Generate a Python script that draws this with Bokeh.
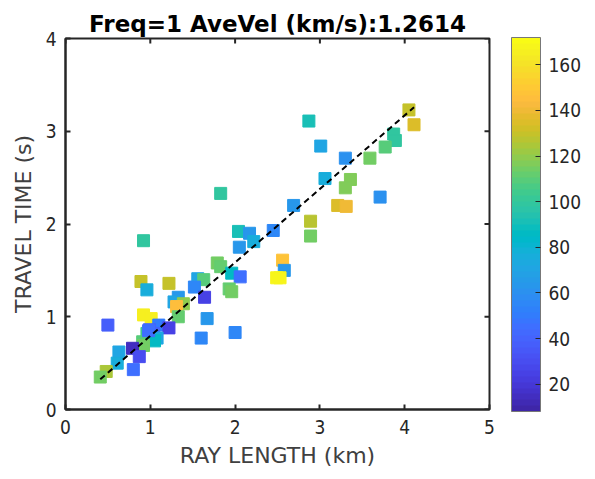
import math
from bokeh.plotting import figure
from bokeh.models import ColorBar, LinearColorMapper, FixedTicker, Range1d, ColumnDataSource
from bokeh.embed import file_html
from bokeh.resources import INLINE

# ---- data ----
ray_length = [4.05, 4.11, 2.87, 3.01, 3.30, 3.59, 3.87, 3.89, 3.77, 3.06,
              3.36, 3.30, 3.21, 3.31, 3.71, 1.83, 2.69, 2.45, 2.89, 2.89,
              2.04, 2.17, 2.22, 2.05, 0.92, 1.79, 1.83, 2.56, 2.58, 2.49,
              1.96, 2.06, 1.56, 1.63, 1.52, 1.64, 1.93, 1.96, 0.89, 1.22,
              0.96, 1.33, 1.28, 1.39, 1.31, 1.33, 0.92, 1.01, 1.67, 0.50,
              1.10, 1.22, 0.99, 1.04, 1.08, 0.96, 1.05, 0.91, 0.92, 2.00,
              1.60, 0.63, 0.79, 0.87, 0.61, 0.80, 0.48, 0.41, 0.98, 2.53]
travel_time = [3.23, 3.07, 3.11, 2.84, 2.71, 2.71, 2.97, 2.90, 2.83, 2.49,
               2.48, 2.39, 2.20, 2.19, 2.29, 2.33, 2.20, 1.93, 2.03, 1.87,
               1.92, 1.90, 1.81, 1.75, 1.82, 1.58, 1.54, 1.61, 1.50, 1.42,
               1.47, 1.43, 1.41, 1.40, 1.32, 1.21, 1.30, 1.27, 1.38, 1.36,
               1.29, 1.21, 1.16, 1.14, 1.11, 1.00, 1.02, 0.98, 0.98, 0.91,
               0.91, 0.88, 0.86, 0.82, 0.77, 0.82, 0.74, 0.73, 0.69, 0.83,
               0.77, 0.62, 0.66, 0.57, 0.50, 0.43, 0.41, 0.35, 0.85, 1.42]
color_value = [130, 135, 90, 70, 60, 115, 100, 100, 110, 75,
               118, 118, 135, 140, 60, 100, 62, 55, 128, 115,
               90, 62, 75, 62, 98, 115, 112, 148, 62, 168,
               85, 45, 70, 110, 55, 25, 112, 115, 130, 130,
               75, 62, 70, 120, 145, 112, 165, 165, 62, 38,
               50, 25, 40, 40, 70, 105, 85, 110, 115, 55,
               55, 70, 15, 30, 75, 45, 125, 115, 45, 168]

ave_vel = 1.2614
title_text = "Freq=1 AveVel (km/s):1.2614"
x_label = "RAY LENGTH (km)"
y_label = "TRAVEL TIME (s)"
x_ticks = [0, 1, 2, 3, 4, 5]
y_ticks = [0, 1, 2, 3, 4]
x_min, x_max = 0, 5
y_min, y_max = 0, 4
cbar_ticks = [20, 40, 60, 80, 100, 120, 140, 160]
cbar_low, cbar_high = 8, 172

# MATLAB parula colormap (64 entries)
parula_rgb = [
    (0.2422, 0.1504, 0.6603), (0.2504, 0.1650, 0.7076), (0.2578, 0.1818, 0.7511), (0.2647, 0.1978, 0.7952),
    (0.2706, 0.2147, 0.8364), (0.2751, 0.2342, 0.8710), (0.2783, 0.2559, 0.8991), (0.2803, 0.2782, 0.9221),
    (0.2813, 0.3006, 0.9414), (0.2810, 0.3228, 0.9579), (0.2795, 0.3447, 0.9717), (0.2760, 0.3667, 0.9829),
    (0.2699, 0.3892, 0.9906), (0.2602, 0.4123, 0.9952), (0.2440, 0.4358, 0.9988), (0.2206, 0.4603, 0.9973),
    (0.1963, 0.4847, 0.9892), (0.1834, 0.5074, 0.9798), (0.1786, 0.5289, 0.9682), (0.1764, 0.5499, 0.9520),
    (0.1687, 0.5703, 0.9359), (0.1540, 0.5902, 0.9218), (0.1460, 0.6091, 0.9079), (0.1380, 0.6276, 0.8973),
    (0.1248, 0.6459, 0.8883), (0.1113, 0.6635, 0.8763), (0.0952, 0.6798, 0.8598), (0.0689, 0.6948, 0.8394),
    (0.0297, 0.7082, 0.8163), (0.0036, 0.7203, 0.7917), (0.0067, 0.7312, 0.7660), (0.0433, 0.7411, 0.7394),
    (0.0964, 0.7500, 0.7120), (0.1408, 0.7584, 0.6842), (0.1717, 0.7670, 0.6554), (0.1938, 0.7758, 0.6251),
    (0.2161, 0.7843, 0.5923), (0.2470, 0.7918, 0.5567), (0.2906, 0.7973, 0.5188), (0.3406, 0.8008, 0.4789),
    (0.3909, 0.8029, 0.4354), (0.4456, 0.8024, 0.3909), (0.5044, 0.7993, 0.3480), (0.5616, 0.7942, 0.3045),
    (0.6174, 0.7876, 0.2612), (0.6720, 0.7793, 0.2227), (0.7242, 0.7698, 0.1910), (0.7738, 0.7598, 0.1646),
    (0.8203, 0.7498, 0.1535), (0.8634, 0.7406, 0.1596), (0.9035, 0.7330, 0.1774), (0.9393, 0.7288, 0.2100),
    (0.9728, 0.7298, 0.2394), (0.9956, 0.7434, 0.2371), (0.9970, 0.7659, 0.2199), (0.9952, 0.7893, 0.2028),
    (0.9892, 0.8136, 0.1885), (0.9786, 0.8386, 0.1766), (0.9676, 0.8639, 0.1643), (0.9610, 0.8890, 0.1537),
    (0.9597, 0.9135, 0.1423), (0.9628, 0.9373, 0.1265), (0.9691, 0.9606, 0.1064), (0.9769, 0.9839, 0.0805),
]
parula = ["#%02x%02x%02x" % tuple(int(round(v * 255)) for v in c) for c in parula_rgb]

FONT = "DejaVu Sans"
TICKFONT = "DejaVu Sans Condensed, DejaVu Sans"
TXT = "#262626"

mapper = LinearColorMapper(palette=parula, low=cbar_low, high=cbar_high)

FW, FH = 424, 371
p = figure(width=595, height=479, output_backend="svg", toolbar_location=None,
           x_range=Range1d(x_min, x_max), y_range=Range1d(y_min, y_max),
           min_border_left=65, min_border_right=106, min_border_top=38, min_border_bottom=70)
p.background_fill_color = "white"
p.border_fill_color = "white"
p.grid.visible = False
p.outline_line_color = TXT
p.outline_line_width = 2

p.title.text = title_text
p.title.align = "center"
p.title.text_font = FONT
p.title.text_font_size = "23px"
p.title.text_font_style = "bold"
p.title.text_color = "black"
p.title.offset = 0
p.title.standoff = 3

for ax, ticks in ((p.xaxis[0], x_ticks), (p.yaxis[0], y_ticks)):
    ax.ticker = FixedTicker(ticks=ticks)
    ax.major_tick_in = 5
    ax.major_tick_out = 0
    ax.minor_tick_line_color = None
    ax.axis_line_color = TXT
    ax.axis_line_width = 2
    ax.major_tick_line_color = TXT
    ax.major_tick_line_width = 2
    ax.major_label_text_font = TICKFONT
    ax.major_label_text_font_size = "19px"
    ax.major_label_text_color = TXT
    ax.axis_label_text_font = FONT
    ax.axis_label_text_font_size = "22px"
    ax.axis_label_text_font_style = "normal"
    ax.axis_label_text_color = "#404040"
p.xaxis.axis_label = x_label
p.yaxis.axis_label = y_label
p.xaxis.major_label_standoff = 10
p.yaxis.major_label_standoff = 9
p.xaxis.axis_label_standoff = 6
p.yaxis.axis_label_standoff = 7

src = ColumnDataSource(dict(x=ray_length, y=travel_time, c=color_value))
p.scatter("x", "y", source=src, marker="square", size=12,
          fill_color={"field": "c", "transform": mapper},
          line_color={"field": "c", "transform": mapper}, line_width=1)

x0, x1 = min(ray_length), max(ray_length)
p.line([x0, x1], [x0 / ave_vel, x1 / ave_vel], line_color="black", line_width=2, line_dash="6 4")

# inward tick marks on the top and right edges of the box (clipped to the frame)
p.scatter(x=x_ticks, y=[y_max] * len(x_ticks), marker="dash", angle=math.pi / 2, size=10,
          line_color=TXT, line_width=2)
p.scatter(x=[x_max] * len(y_ticks), y=y_ticks, marker="dash", size=10,
          line_color=TXT, line_width=2)

cb = ColorBar(color_mapper=mapper, ticker=FixedTicker(ticks=cbar_ticks),
              width=29, height=374, location=(FW + 22, -2), padding=0, margin=0,
              major_tick_in=5, major_tick_out=0, major_tick_line_color=TXT,
              minor_tick_line_color=None,
              bar_line_color="#777777", bar_line_width=1,
              major_label_text_font=TICKFONT, major_label_text_font_size="19px",
              major_label_text_color=TXT, label_standoff=8,
              background_fill_color=None, border_line_color=None)
p.add_layout(cb, "center")

open("out.html", "w").write(file_html(p, INLINE))
